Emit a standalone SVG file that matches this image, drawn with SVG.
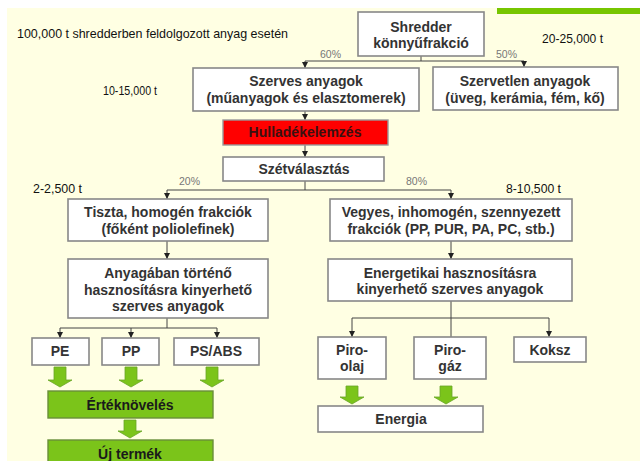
<svg xmlns="http://www.w3.org/2000/svg" width="640" height="461" viewBox="0 0 640 461">
<defs>
<style>
text{font-family:"Liberation Sans",Arial,sans-serif;}
.box{fill:#fff;stroke:#888;stroke-width:1.6;}
.red{fill:#ff0000;stroke:#999;stroke-width:1.4;}
.grn{fill:#7bc41a;stroke:#6a8f3a;stroke-width:1.4;}
.t{font-size:14px;font-weight:bold;fill:#333;text-anchor:middle;}
.tk{font-size:14px;font-weight:bold;fill:#1a1a1a;text-anchor:middle;}
.lab{font-size:13px;fill:#111;}
.pct{font-size:10.5px;fill:#777;}
.con{fill:none;stroke:#444;stroke-width:1;}
.ga{fill:#7bc41a;stroke:#6aa52a;stroke-width:0.8;}
</style>
<marker id="ah" markerWidth="6" markerHeight="6" refX="6" refY="3" orient="auto" markerUnits="userSpaceOnUse">
<path d="M0,0 L6,3 L0,6 Z" fill="#222"/>
</marker>
<path id="gar" class="ga" d="M-6,0 H6 V13 H12 L0,20 L-12,13 H-6 Z"/>
<path id="gar2" class="ga" d="M-6,0 H6 V11 H12 L0,18 L-12,11 H-6 Z"/>
</defs>

<rect x="0" y="0" width="640" height="461" fill="#fff"/>
<rect x="7" y="8" width="633" height="453" fill="#ffffe3"/>
<rect x="497" y="8" width="143" height="6" fill="#77c600"/>

<g id="labels">
<text class="lab" x="17" y="38" textLength="271" lengthAdjust="spacingAndGlyphs">100,000 t shredderben feldolgozott anyag esetén</text>
<text class="lab" x="103" y="95" textLength="54" lengthAdjust="spacingAndGlyphs">10-15,000 t</text>
<text class="lab" x="542" y="43" textLength="61" lengthAdjust="spacingAndGlyphs">20-25,000 t</text>
<text class="lab" x="33" y="193" textLength="49" lengthAdjust="spacingAndGlyphs">2-2,500 t</text>
<text class="lab" x="506" y="193" textLength="55" lengthAdjust="spacingAndGlyphs">8-10,500 t</text>
<text class="pct" x="320" y="58">60%</text>
<text class="pct" x="496" y="58">50%</text>
<text class="pct" x="179" y="185">20%</text>
<text class="pct" x="406" y="185">80%</text>
</g>

<g id="connectors">
<path class="con" d="M421,56 V61 M305,61 H524"/>
<path class="con" d="M305,61 V68" marker-end="url(#ah)"/>
<path class="con" d="M524,61 V67" marker-end="url(#ah)"/>
<path class="con" d="M305,111 V120" marker-end="url(#ah)"/>
<path class="con" d="M305,145 V157" marker-end="url(#ah)"/>
<path class="con" d="M305,181 V190 M167,190 H451"/>
<path class="con" d="M167,190 V199" marker-end="url(#ah)"/>
<path class="con" d="M451,190 V199" marker-end="url(#ah)"/>
<path class="con" d="M167,241 V259" marker-end="url(#ah)"/>
<path class="con" d="M451,241 V259" marker-end="url(#ah)"/>
<path class="con" d="M167,318 V328 M60,328 H217"/>
<path class="con" d="M60,328 V338" marker-end="url(#ah)"/>
<path class="con" d="M131,328 V338" marker-end="url(#ah)"/>
<path class="con" d="M217,328 V338" marker-end="url(#ah)"/>
<path class="con" d="M451,301 V337 M352,318 H549"/>
<path class="con" d="M352,318 V337" marker-end="url(#ah)"/>
<path class="con" d="M549,318 V337" marker-end="url(#ah)"/>
<use href="#gar" x="60" y="367"/>
<use href="#gar" x="131" y="367"/>
<use href="#gar" x="212" y="367"/>
<use href="#gar2" x="130" y="420"/>
<use href="#gar2" x="352" y="386"/>
<use href="#gar2" x="446" y="386"/>
</g>

<g id="shredder">
<rect class="box" x="358" y="12" width="126" height="44"/>
<text class="t" x="421" y="32">Shredder</text>
<text class="t" x="421" y="48">könnyűfrakció</text>
</g>
<g id="szerves">
<rect class="box" x="193" y="68" width="226" height="43"/>
<text class="t" x="306" y="86">Szerves anyagok</text>
<text class="t" x="306" y="103">(műanyagok és elasztomerek)</text>
</g>
<g id="szervetlen">
<rect class="box" x="433" y="67" width="185" height="43"/>
<text class="t" x="525" y="86">Szervetlen anyagok</text>
<text class="t" x="525" y="103">(üveg, kerámia, fém, kő)</text>
</g>
<g id="hulladek">
<rect class="red" x="223" y="120" width="165" height="25"/>
<text class="t" x="305" y="137" style="fill:#3a1010">Hulladékelemzés</text>
</g>
<g id="szetvalasztas">
<rect class="box" x="223" y="157" width="161" height="24"/>
<text class="t" x="304" y="174">Szétválasztás</text>
</g>
<g id="tiszta">
<rect class="box" x="68" y="199" width="200" height="42"/>
<text class="t" x="168" y="217">Tiszta, homogén frakciók</text>
<text class="t" x="168" y="234">(főként poliolefinek)</text>
</g>
<g id="vegyes">
<rect class="box" x="330" y="199" width="242" height="42"/>
<text class="t" x="451" y="217">Vegyes, inhomogén, szennyezett</text>
<text class="t" x="451" y="234">frakciók (PP, PUR, PA, PC, stb.)</text>
</g>
<g id="anyagaban">
<rect class="box" x="68" y="259" width="200" height="59"/>
<text class="t" x="168" y="278">Anyagában történő</text>
<text class="t" x="168" y="295">hasznosításra kinyerhető</text>
<text class="t" x="168" y="311">szerves anyagok</text>
</g>
<g id="energetikai">
<rect class="box" x="328" y="259" width="244" height="42"/>
<text class="t" x="450" y="278">Energetikai hasznosításra</text>
<text class="t" x="450" y="294">kinyerhető szerves anyagok</text>
</g>
<g id="pe">
<rect class="box" x="32" y="338" width="57" height="27"/>
<text class="t" x="60" y="356">PE</text>
</g>
<g id="pp">
<rect class="box" x="102" y="338" width="57" height="27"/>
<text class="t" x="131" y="356">PP</text>
</g>
<g id="psabs">
<rect class="box" x="174" y="338" width="85" height="27"/>
<text class="t" x="216" y="356">PS/ABS</text>
</g>
<g id="pirool">
<rect class="box" x="318" y="337" width="68" height="42"/>
<text class="t" x="352" y="355">Piro-</text>
<text class="t" x="352" y="371">olaj</text>
</g>
<g id="pirogaz">
<rect class="box" x="414" y="337" width="72" height="42"/>
<text class="t" x="450" y="355">Piro-</text>
<text class="t" x="450" y="371">gáz</text>
</g>
<g id="koksz">
<rect class="box" x="514" y="337" width="72" height="25"/>
<text class="t" x="550" y="355">Koksz</text>
</g>
<g id="energia">
<rect class="box" x="318" y="406" width="165" height="26"/>
<text class="t" x="401" y="424">Energia</text>
</g>
<g id="erteknoveles">
<rect class="grn" x="48" y="391" width="165" height="27"/>
<text class="tk" x="130" y="410">Értéknövelés</text>
</g>
<g id="ujtermek">
<rect class="grn" x="48" y="440" width="165" height="30"/>
<text class="tk" x="130" y="459">Új termék</text>
</g>
</svg>
